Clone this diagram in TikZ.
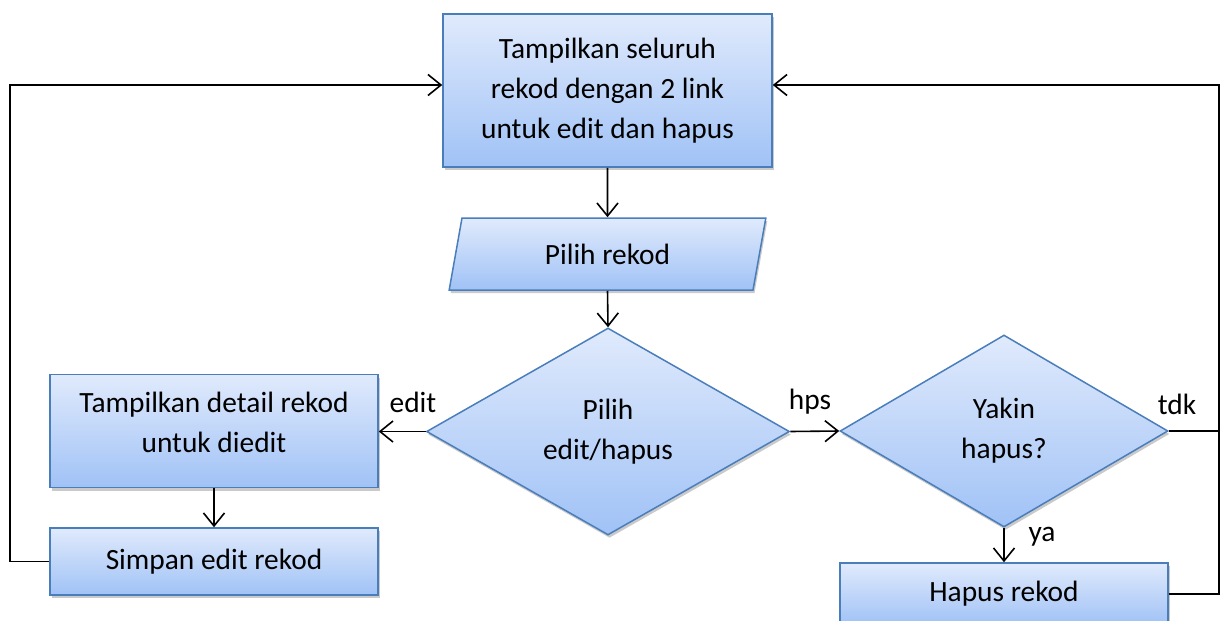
\documentclass[tikz,border=0pt]{standalone}
\usepackage{fontspec}
\setmainfont{Carlito}
\usetikzlibrary{shapes.geometric,arrows.meta,shadows}
\definecolor{bordc}{RGB}{74,126,187}
\definecolor{topc}{RGB}{224,234,252}
\definecolor{botc}{RGB}{160,194,246}
\tikzset{
  boxbase/.style={draw=bordc, line width=1.5pt, top color=topc, bottom color=botc,
    drop shadow={shadow xshift=1.5pt, shadow yshift=-3pt, opacity=0.35, fill=black!60},
    font=\fontsize{29.4}{40}\selectfont, align=center, inner sep=0pt, text=black},
  procbox/.style={boxbase, rectangle},
  iobox/.style={boxbase, trapezium, trapezium left angle=75, trapezium right angle=105, trapezium stretches=true},
  decbox/.style={boxbase, diamond, aspect=1.75},
  conn/.style={line width=1.6pt, draw=black},
  arr/.style={conn, -{Straight Barb[length=13pt,width=21pt,line width=1.6pt]}},
  lbl/.style={font=\fontsize{29.4}{34}\selectfont, inner sep=0pt}
}
\begin{document}
\begin{tikzpicture}[x=1pt,y=-1pt]
\useasboundingbox (0,0) rectangle (1221,621);
\clip (0,0) rectangle (1221,621);
\node[procbox, minimum width=329pt, minimum height=153pt] (top) at (607.5,90.5) {Tampilkan seluruh\\rekod dengan 2 link\\untuk edit dan hapus};
\node[iobox, minimum width=317pt, minimum height=72pt] (pilih) at (607.5,254) {Pilih rekod};
\node[decbox, minimum width=363pt, minimum height=207pt] (d1) at (608,431.5) {Pilih\\edit/hapus};
\node[procbox, minimum width=328pt, minimum height=113pt, text depth=17pt] (edit) at (214,431) {Tampilkan detail rekod\\untuk diedit};
\node[procbox, minimum width=328pt, minimum height=67pt] (simpan) at (214,561.5) {Simpan edit rekod};
\node[decbox, minimum width=328pt, minimum height=192pt] (d2) at (1004,431) {Yakin\\hapus?};
\node[procbox, minimum width=328pt, minimum height=62pt] (hapus) at (1004,594) {Hapus rekod};

\coordinate (lt) at (10,85);
\coordinate (rt) at (1219,85);

\draw[arr] (top.south) -- (pilih.north);
\draw[arr] (pilih.south) -- (d1.north);
\draw[arr] (d1.west) -- (edit.east |- d1.west);
\draw[arr] (edit.south) -- (simpan.north);
\draw[arr] (simpan.west) -| (lt) -- (top.west |- lt);
\draw[arr] (d1.east) -- (d2.west);
\draw[arr] (d2.south) -- (hapus.north);
\draw[conn] (d2.east) -- (d2.east -| rt);
\draw[arr] (hapus.east) -| (rt) -- (top.east |- rt);

\node[lbl] (ledit) at (413,402) {edit};
\node[lbl] (lhps) at (810,402) {hps};
\node[lbl] (ltdk) at (1177,404) {tdk};
\node[lbl] (lya) at (1042,537) {ya};
\end{tikzpicture}
\end{document}
